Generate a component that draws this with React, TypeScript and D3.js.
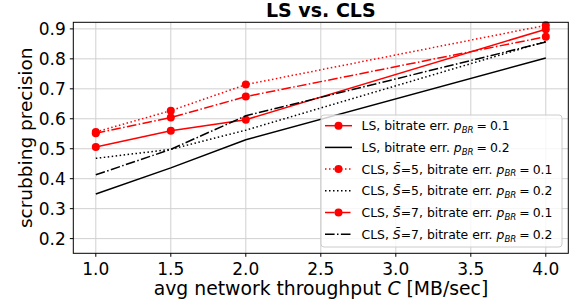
import * as d3 from "d3";

// throughput values on the x axis (MB/sec)
const throughput = [1.0, 1.5, 2.0, 4.0];

// scrubbing precision per series
const lsP01 = [0.506, 0.56, 0.597, 0.899];
const lsP02 = [0.349, 0.436, 0.53, 0.803];
const cls5P01 = [0.556, 0.627, 0.714, 0.912];
const cls5P02 = [0.468, 0.498, 0.562, 0.858];
const cls7P01 = [0.552, 0.604, 0.674, 0.874];
const cls7P02 = [0.413, 0.498, 0.61, 0.856];

const xTicks = [1.0, 1.5, 2.0, 2.5, 3.0, 3.5, 4.0];
const yTicks = [0.2, 0.3, 0.4, 0.5, 0.6, 0.7, 0.8, 0.9];

const series = [
  { name: "LS", sbar: null, p: "0.1", values: lsP01, color: "#ff0000", dash: null, marker: true },
  { name: "LS", sbar: null, p: "0.2", values: lsP02, color: "#000000", dash: null, marker: false },
  { name: "CLS", sbar: "5", p: "0.1", values: cls5P01, color: "#ff0000", dash: "1.5,2.5", marker: true },
  { name: "CLS", sbar: "5", p: "0.2", values: cls5P02, color: "#000000", dash: "1.5,2.5", marker: false },
  { name: "CLS", sbar: "7", p: "0.1", values: cls7P01, color: "#ff0000", dash: "9.6,2.4,1.5,2.4", marker: true },
  { name: "CLS", sbar: "7", p: "0.2", values: cls7P02, color: "#000000", dash: "9.6,2.4,1.5,2.4", marker: false },
];

const W = 576, H = 306;
const margin = { top: 22.3, right: 7.7, bottom: 52.7, left: 73.3 };
const font = "DejaVu Sans, sans-serif";

export default function App() {
  const x = d3.scaleLinear().domain([0.85, 4.15]).range([margin.left, W - margin.right]);
  const y = d3.scaleLinear().domain([0.151, 0.922]).range([H - margin.bottom, margin.top]);
  const line = d3.line<number>().x((_, i) => x(throughput[i])).y((d) => y(d));

  const x0 = x.range()[0], x1 = x.range()[1];
  const y0 = y.range()[0], y1 = y.range()[1];

  const leg = { x: 321, y: 115, w: 241, h: 132, row: 21.7 };

  return (
    <div style={{ position: "fixed", left: 0, top: 0 }}>
      <svg width={W} height={H} style={{ display: "block", fontFamily: font }}>
        <rect width={W} height={H} fill="#ffffff" />
        {/* grid */}
        {xTicks.map((t) => (
          <line key={"gx" + t} x1={x(t)} x2={x(t)} y1={y1} y2={y0} stroke="#d0d0d0" strokeWidth={1} />
        ))}
        {yTicks.map((t) => (
          <line key={"gy" + t} x1={x0} x2={x1} y1={y(t)} y2={y(t)} stroke="#d0d0d0" strokeWidth={1} />
        ))}
        {/* lines */}
        {series.map((s, i) => (
          <g key={"s" + i}>
            <path d={line(s.values) || ""} fill="none" stroke={s.color} strokeWidth={1.5}
              strokeDasharray={s.dash || undefined} />
            {s.marker && s.values.map((v, j) => (
              <circle key={j} cx={x(throughput[j])} cy={y(v)} r={4} fill={s.color} />
            ))}
          </g>
        ))}
        {/* frame */}
        <rect x={x0} y={y1} width={x1 - x0} height={y0 - y1} fill="none" stroke="#000" strokeWidth={1} />
        {/* x ticks */}
        {xTicks.map((t) => (
          <g key={"xt" + t}>
            <line x1={x(t)} x2={x(t)} y1={y0} y2={y0 + 3.5} stroke="#000" />
            <text x={x(t)} y={y0 + 21.7} textAnchor="middle" fontSize={17} fill="#000">{t.toFixed(1)}</text>
          </g>
        ))}
        {yTicks.map((t) => (
          <g key={"yt" + t}>
            <line x1={x0 - 3.5} x2={x0} y1={y(t)} y2={y(t)} stroke="#000" />
            <text x={x0 - 7.5} y={y(t) + 6} textAnchor="end" fontSize={17} fill="#000">{t.toFixed(1)}</text>
          </g>
        ))}
        {/* labels */}
        <text x={321} y={295} textAnchor="middle" fontSize={18.8} fill="#000">
          avg network throughput <tspan fontStyle="italic">C</tspan> [MB/sec]
        </text>
        <text transform={`translate(31.5,${(y0 + y1) / 2}) rotate(-90)`} textAnchor="middle" fontSize={18.5} fill="#000">
          scrubbing precision
        </text>
        <text x={(x0 + x1) / 2} y={17} textAnchor="middle" fontSize={19} fontWeight="bold" fill="#000">
          LS vs. CLS
        </text>
        {/* legend */}
        <rect x={leg.x} y={leg.y} width={leg.w} height={leg.h} rx={3} fill="#ffffff" fillOpacity={0.8}
          stroke="#cccccc" strokeWidth={1} />
        {series.map((s, i) => {
          const cy = leg.y + 10.7 + i * leg.row;
          return (
            <g key={"l" + i}>
              <line x1={325} x2={352} y1={cy} y2={cy} stroke={s.color} strokeWidth={1.5}
                strokeDasharray={s.dash || undefined} />
              {s.marker && <circle cx={338.5} cy={cy} r={4} fill={s.color} />}
              <text x={361.5} y={cy + 4.5} fontSize={12.4} fill="#000">
                {s.name},{" "}
                {s.sbar && (
                  <>
                    <tspan fontStyle="italic">{"S\u0304"}</tspan>={s.sbar},{" "}
                  </>
                )}
                bitrate err. <tspan fontStyle="italic">p</tspan>
                <tspan fontStyle="italic" fontSize={8.6} dy={2.8}>BR</tspan>
                <tspan dy={-2.8} dx={3}>=</tspan>
                <tspan dx={3}>{s.p}</tspan>
              </text>
            </g>
          );
        })}
      </svg>
    </div>
  );
}
